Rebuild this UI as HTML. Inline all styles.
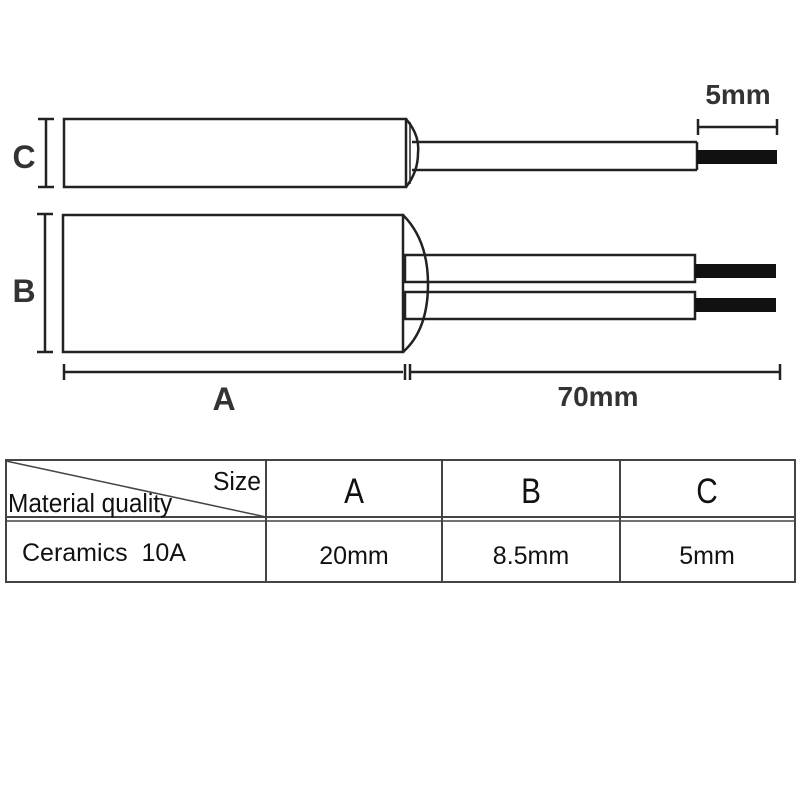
<!DOCTYPE html>
<html><head><style>html,body{margin:0;padding:0;background:#fff}</style></head><body>
<svg width="800" height="800" viewBox="0 0 800 800" xmlns="http://www.w3.org/2000/svg" font-family="Liberation Sans, DejaVu Sans, sans-serif">
<g fill="none" stroke="#222" stroke-width="2.5">
<rect x="64" y="119" width="342" height="68"/>
<path d="M406 119 Q420 135 418 153 Q418 172 406 187"/>
<line x1="410" y1="122" x2="410" y2="184" stroke-width="1.5"/>
<line x1="412" y1="142" x2="697" y2="142"/>
<line x1="412" y1="170" x2="697" y2="170"/>
<line x1="697" y1="142" x2="697" y2="170"/>
<rect x="63" y="215" width="340" height="137"/>
<path d="M403 215 Q428 240 428 284 Q428 330 403 352"/>
<rect x="405" y="255" width="290" height="27"/>
<rect x="405" y="292" width="290" height="27"/>
<line x1="46" y1="119" x2="46" y2="187"/>
<line x1="38" y1="119" x2="54" y2="119"/><line x1="38" y1="187" x2="54" y2="187"/>
<line x1="45" y1="214" x2="45" y2="352"/>
<line x1="37" y1="214" x2="53" y2="214"/><line x1="37" y1="352" x2="53" y2="352"/>
<line x1="64" y1="372" x2="403" y2="372"/>
<line x1="64" y1="364" x2="64" y2="380"/>
<line x1="405" y1="364" x2="405" y2="380"/><line x1="410" y1="364" x2="410" y2="380"/>
<line x1="410" y1="372" x2="780" y2="372"/>
<line x1="780" y1="364" x2="780" y2="380"/>
<line x1="698" y1="127" x2="777" y2="127"/>
<line x1="698" y1="119" x2="698" y2="135"/><line x1="777" y1="119" x2="777" y2="135"/>
</g>
<g fill="#111">
<rect x="697" y="150" width="80" height="14"/>
<rect x="695" y="264" width="81" height="14"/>
<rect x="695" y="298" width="81" height="14"/>
</g>
<g fill="#333" font-weight="bold" font-size="32" text-anchor="middle">
<text x="24" y="168">C</text>
<text x="24" y="302">B</text>
<text x="224" y="410">A</text>
<text x="738" y="104" font-size="28">5mm</text>
<text x="598" y="406" font-size="28">70mm</text>
</g>
<g fill="none" stroke="#444" stroke-width="2">
<rect x="6" y="460" width="789" height="122"/>
<line x1="266" y1="460" x2="266" y2="582"/>
<line x1="442" y1="460" x2="442" y2="582"/>
<line x1="620" y1="460" x2="620" y2="582"/>
<line x1="6" y1="517" x2="795" y2="517"/>
<line x1="6" y1="521" x2="795" y2="521" stroke-width="1.5"/>
<line x1="6" y1="461" x2="266" y2="517" stroke-width="1.5"/>
</g>
<g fill="#111" font-size="26">
<text x="261" y="490" text-anchor="end" transform="translate(261 0) scale(0.95 1) translate(-261 0)">Size</text>
<text x="8" y="512" transform="translate(8 0) scale(0.94 1) translate(-8 0)">Material quality</text>
<g font-size="35">
<text x="354" y="503" text-anchor="middle" transform="translate(354 0) scale(0.85 1) translate(-354 0)">A</text>
<text x="531" y="503" text-anchor="middle" transform="translate(531 0) scale(0.85 1) translate(-531 0)">B</text>
<text x="707" y="503" text-anchor="middle" transform="translate(707 0) scale(0.85 1) translate(-707 0)">C</text>
</g>
<g font-size="25">
<text x="22" y="561">Ceramics&#160;&#160;10A</text>
<text x="354" y="564" text-anchor="middle">20mm</text>
<text x="531" y="564" text-anchor="middle">8.5mm</text>
<text x="707" y="564" text-anchor="middle">5mm</text>
</g>
</g>
</svg>
</body></html>
